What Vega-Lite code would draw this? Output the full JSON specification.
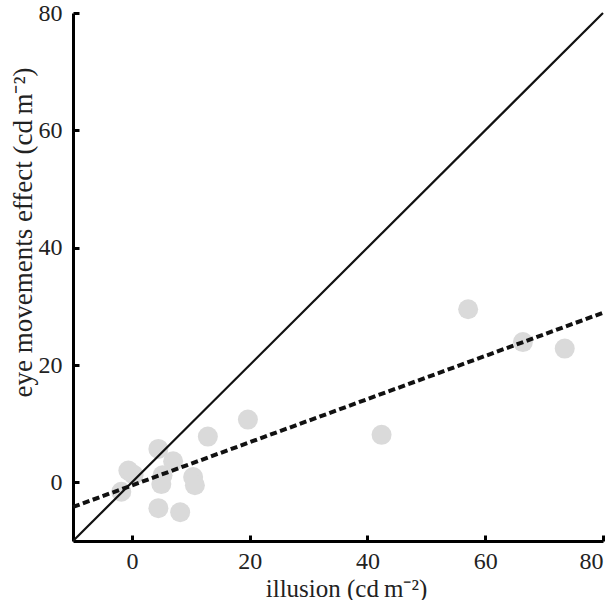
{
  "$schema": "https://vega.github.io/schema/vega-lite/v6.json",
  "autosize": "none",
  "width": 530,
  "height": 528,
  "padding": {"left": 73, "top": 13, "right": 12, "bottom": 59},
  "background": "white",
  "config": {
    "view": {"stroke": null},
    "font": "Liberation Serif",
    "axis": {
      "grid": false,
      "domainColor": "black",
      "domainWidth": 3,
      "tickColor": "black",
      "tickWidth": 3,
      "tickSize": -6,
      "labelFont": "Liberation Serif",
      "labelFontSize": 24,
      "labelColor": "#222",
      "titleFont": "Liberation Serif",
      "titleFontWeight": "normal",
      "titleColor": "#222"
    }
  },
  "datasets": {
    "points": [
      {"illusion": 57.1, "eye": 29.5},
      {"illusion": 66.4, "eye": 23.9},
      {"illusion": 73.5, "eye": 22.8},
      {"illusion": 42.4, "eye": 8.1},
      {"illusion": 19.7, "eye": 10.7},
      {"illusion": 12.9, "eye": 7.8},
      {"illusion": 4.5, "eye": 5.7},
      {"illusion": -0.6, "eye": 2.0},
      {"illusion": 0.3, "eye": 1.3},
      {"illusion": -1.8, "eye": -1.6},
      {"illusion": 7.0, "eye": 3.6},
      {"illusion": 5.2, "eye": 1.2},
      {"illusion": 5.0, "eye": -0.3},
      {"illusion": 10.4, "eye": 0.9},
      {"illusion": 10.7, "eye": -0.5},
      {"illusion": 4.5, "eye": -4.4},
      {"illusion": 8.2, "eye": -5.1}
    ],
    "identity": [
      {"illusion": -10, "eye": -10},
      {"illusion": 80, "eye": 80}
    ],
    "fit": [
      {"illusion": -10, "eye": -4.2},
      {"illusion": 80, "eye": 28.9}
    ]
  },
  "encoding": {
    "x": {
      "field": "illusion",
      "type": "quantitative",
      "scale": {"domain": [-10, 80], "nice": false, "zero": false},
      "axis": {
        "values": [0, 20, 40, 60, 80],
        "title": "illusion (cd\u2009m\u207b\u00b2)",
        "labelPadding": 14,
        "titleFontSize": 25,
        "titleX": 273,
        "titleY": 55,
        "titleAlign": "center",
        "titleBaseline": "alphabetic"
      }
    },
    "y": {
      "field": "eye",
      "type": "quantitative",
      "scale": {"domain": [-10, 80], "nice": false, "zero": false},
      "axis": {
        "values": [0, 20, 40, 60, 80],
        "title": "eye movements effect (cd\u2009m\u207b\u00b2)",
        "labelPadding": 17,
        "titleFontSize": 27,
        "titleX": -42,
        "titleY": 219,
        "titleAngle": -90,
        "titleAlign": "center",
        "titleBaseline": "alphabetic"
      }
    }
  },
  "layer": [
    {
      "data": {"name": "points"},
      "mark": {"type": "circle", "size": 400, "color": "#dadada", "opacity": 1}
    },
    {
      "data": {"name": "identity"},
      "mark": {"type": "line", "color": "#111", "strokeWidth": 2.2}
    },
    {
      "data": {"name": "fit"},
      "mark": {"type": "line", "color": "#111", "strokeWidth": 4, "strokeDash": [7, 3.5]}
    }
  ]
}
